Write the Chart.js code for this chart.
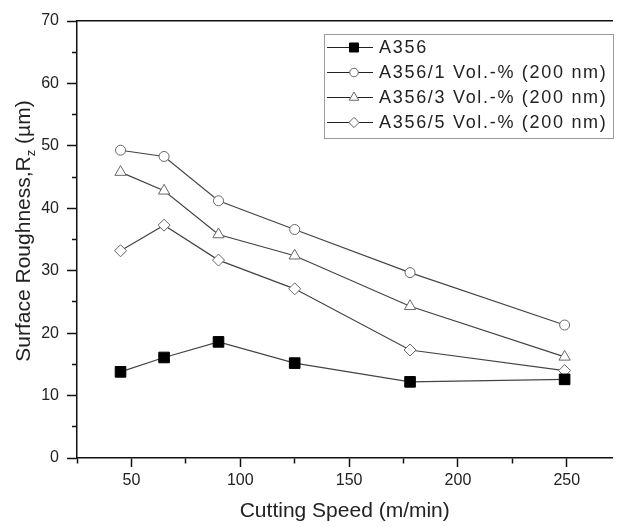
<!DOCTYPE html>
<html>
<head>
<meta charset="utf-8">
<script src="https://cdn.jsdelivr.net/npm/chart.js@4/dist/chart.umd.min.js"></script>
<style>
    html, body { margin: 0; padding: 0; background: #fff; }
    #wrap { width: 621px; height: 527px; }
</style>
</head>
<body>
<div id="wrap"><canvas id="roughChart" width="621" height="527"></canvas></div>
<script>
const speeds = [45, 65, 90, 125, 178, 249];
const a356 = [13.8, 16.1, 18.6, 15.2, 12.2, 12.6];
const vol1 = [49.3, 48.3, 41.2, 36.6, 29.7, 21.3];
const vol3 = [45.8, 42.8, 35.8, 32.4, 24.3, 16.2];
const vol5 = [33.2, 37.3, 31.7, 27.1, 17.3, 14.0];
const seriesNames = ['A356', 'A356/1 Vol.-% (200 nm)', 'A356/3 Vol.-% (200 nm)', 'A356/5 Vol.-% (200 nm)'];
const xLabelTicks = [50, 100, 150, 200, 250];
const yLabelTicks = [0, 10, 20, 30, 40, 50, 60, 70];

const FONT = "'Liberation Sans', Arial, sans-serif";

function toPoints(values) {
    return speeds.map((s, i) => ({ x: s, y: values[i] }));
}

function makeSet(label, values, style, radius, filled) {
    return {
        label: label,
        data: toPoints(values),
        borderColor: '#444',
        borderWidth: 1.2,
        pointStyle: style,
        pointRadius: radius,
        pointHoverRadius: radius,
        pointBorderWidth: 1,
        pointBorderColor: filled ? '#000' : '#666',
        pointBackgroundColor: filled ? '#000' : '#fff',
        tension: 0,
        fill: false
    };
}

const datasets = [
    makeSet(seriesNames[0], a356, 'rect', 7.5, true),
    makeSet(seriesNames[1], vol1, 'circle', 5, false),
    makeSet(seriesNames[2], vol3, 'triangle', 6.5, false),
    makeSet(seriesNames[3], vol5, 'rectRot', 6, false)
];

// legend with line + marker, drawn inside the plot box
const boxLegend = {
    id: 'boxLegend',
    afterDraw(chart) {
        const ctx = chart.ctx;
        const left = 324, top = 34, right = 613, bottom = 138;
        ctx.save();
        ctx.fillStyle = '#fff';
        ctx.fillRect(left, top, right - left, bottom - top);
        ctx.strokeStyle = '#999';
        ctx.lineWidth = 1;
        ctx.strokeRect(left + 0.5, top + 0.5, right - left, bottom - top);
        chart.data.datasets.forEach((ds, i) => {
            const y = 47.5 + i * 25;
            ctx.strokeStyle = '#222';
            ctx.lineWidth = 1.2;
            ctx.beginPath();
            ctx.moveTo(327, y);
            ctx.lineTo(373, y);
            ctx.stroke();
            ctx.fillStyle = ds.pointBackgroundColor;
            ctx.strokeStyle = ds.pointBorderColor;
            ctx.lineWidth = 1;
            Chart.helpers.drawPoint(ctx, {
                pointStyle: ds.pointStyle,
                radius: ds.pointRadius * 0.85,
                rotation: 0,
                borderWidth: 1
            }, 354, y);
            ctx.fillStyle = '#222';
            ctx.font = '18px ' + FONT;
            ctx.letterSpacing = '1.7px';
            ctx.textBaseline = 'middle';
            ctx.fillText(ds.label, 379, y + 1);
        });
        ctx.restore();
    }
};

// y title with a subscript z
const yTitle = {
    id: 'yTitle',
    afterDraw(chart) {
        const ctx = chart.ctx;
        const p1 = 'Surface Roughness,R', sub = 'z', p3 = ' (µm)';
        ctx.save();
        ctx.translate(24, 231);
        ctx.rotate(-Math.PI / 2);
        ctx.fillStyle = '#222';
        ctx.textBaseline = 'middle';
        ctx.font = '21px ' + FONT;
        const w1 = ctx.measureText(p1).width;
        const w3 = ctx.measureText(p3).width;
        ctx.font = '13px ' + FONT;
        const w2 = ctx.measureText(sub).width;
        let x = -(w1 + w2 + w3) / 2;
        ctx.font = '21px ' + FONT;
        ctx.fillText(p1, x, 0);
        x += w1;
        ctx.font = '13px ' + FONT;
        ctx.fillText(sub, x, 7);
        x += w2;
        ctx.font = '21px ' + FONT;
        ctx.fillText(p3, x, 0);
        ctx.restore();
    }
};

new Chart(document.getElementById('roughChart'), {
    type: 'line',
    data: { datasets: datasets },
    options: {
        responsive: false,
        animation: false,
        layout: { padding: 0 },
        plugins: {
            legend: { display: false },
            tooltip: { enabled: false }
        },
        scales: {
            x: {
                type: 'linear',
                position: 'bottom',
                min: 25,
                max: 271,
                afterBuildTicks: scale => {
                    scale.ticks = scale.ticks.filter(t => t.value % 25 === 0);
                },
                afterFit: scale => { scale.height = 69; },
                ticks: {
                    stepSize: 25,
                    autoSkip: false,
                    maxRotation: 0,
                    padding: 4,
                    color: '#222',
                    font: { family: FONT, size: 16 },
                    callback: v => xLabelTicks.includes(v) ? v : ''
                },
                grid: {
                    drawOnChartArea: false,
                    tickLength: 9,
                    tickColor: '#111',
                    tickWidth: 1.5,
                    tickBorderDash: c => (c.tick && c.tick.value % 50 === 0) ? [] : [5, 100]
                },
                border: { display: true, color: '#111', width: 1.5 },
                title: {
                    display: true,
                    text: 'Cutting Speed (m/min)',
                    color: '#222',
                    font: { family: FONT, size: 21 },
                    padding: { top: 0, bottom: 3 }
                }
            },
            xTop: {
                type: 'linear',
                position: 'top',
                min: 25,
                max: 271,
                afterFit: scale => { scale.height = 21; },
                ticks: { display: false },
                grid: { display: false, drawTicks: false },
                border: { display: true, color: '#111', width: 1.5 }
            },
            y: {
                type: 'linear',
                position: 'left',
                min: 0,
                max: 70,
                afterFit: scale => { scale.width = 77; },
                ticks: {
                    stepSize: 5,
                    autoSkip: false,
                    padding: 8,
                    color: '#222',
                    font: { family: FONT, size: 16 },
                    callback: v => yLabelTicks.includes(v) ? v : ''
                },
                grid: {
                    drawOnChartArea: false,
                    tickLength: 10,
                    tickColor: '#111',
                    tickWidth: 1.5,
                    tickBorderDash: c => (c.tick && c.tick.value % 10 === 0) ? [] : [0, 5, 5, 100]
                },
                border: { display: true, color: '#111', width: 1.5 }
            }
        }
    },
    plugins: [yTitle, boxLegend]
});
</script>
</body>
</html>
